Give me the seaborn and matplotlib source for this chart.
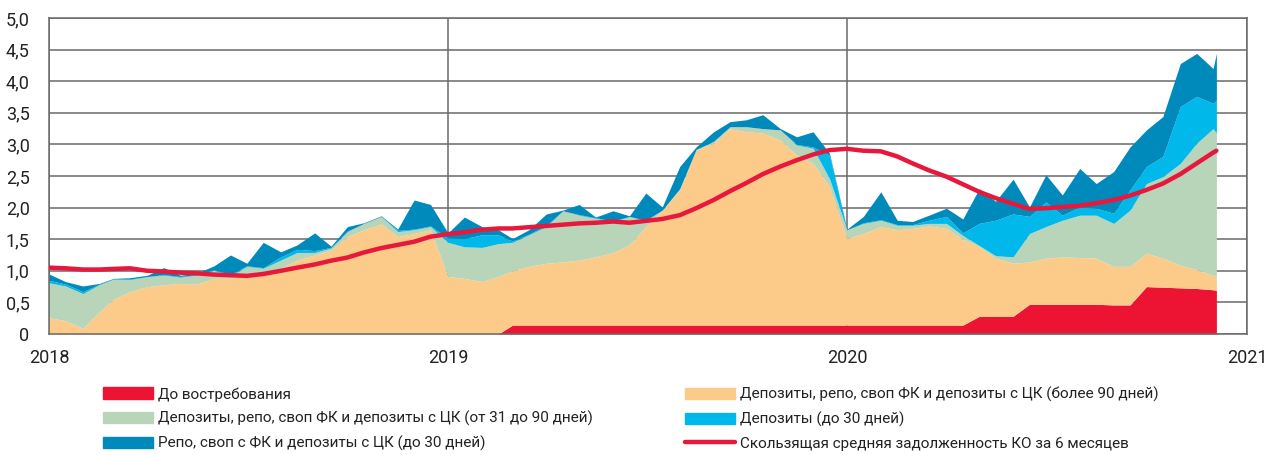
""" Задолженность КО: структура по срокам и скользящая средняя """

import pandas as pd
import seaborn as sns
import matplotlib.pyplot as plt
from matplotlib.ticker import FuncFormatter
from matplotlib.patches import Patch
from matplotlib.lines import Line2D

# Данные (трлн руб., шаг ~ полмесяца)

dates = pd.to_datetime([f"{y}-{m:02d}-{d:02d}" for y in (2018, 2019, 2020)
                        for m in range(1, 13) for d in (1, 16)][:71] + ["2020-12-04"])

demand = [0.00, 0.00, 0.00, 0.00, 0.00, 0.00, 0.00, 0.00, 0.00, 0.00, 0.00, 0.00,
          0.00, 0.00, 0.00, 0.00, 0.00, 0.00, 0.00, 0.00, 0.00, 0.00, 0.00, 0.00,
          0.00, 0.00, 0.00, 0.00, 0.14, 0.14, 0.14, 0.14, 0.14, 0.14, 0.14, 0.14,
          0.14, 0.14, 0.14, 0.14, 0.14, 0.14, 0.14, 0.14, 0.14, 0.14, 0.14, 0.14,
          0.14, 0.14, 0.14, 0.14, 0.14, 0.14, 0.14, 0.14, 0.28, 0.28, 0.28, 0.47,
          0.47, 0.47, 0.47, 0.47, 0.46, 0.46, 0.75, 0.74, 0.73, 0.72, 0.70, 0.69]
over90 = [0.26, 0.21, 0.09, 0.35, 0.55, 0.67, 0.75, 0.78, 0.80, 0.79, 0.88, 0.88,
          0.97, 0.97, 1.04, 1.17, 1.25, 1.33, 1.54, 1.65, 1.74, 1.54, 1.59, 1.65,
          0.91, 0.88, 0.83, 0.91, 0.86, 0.93, 0.98, 1.00, 1.03, 1.08, 1.15, 1.27,
          1.56, 1.82, 2.14, 2.77, 2.88, 3.11, 3.06, 3.04, 2.93, 2.69, 2.56, 2.19,
          1.37, 1.45, 1.56, 1.51, 1.53, 1.57, 1.53, 1.36, 1.10, 0.92, 0.84, 0.67,
          0.73, 0.75, 0.74, 0.73, 0.61, 0.61, 0.53, 0.46, 0.36, 0.30, 0.23, 0.22]
d31_90 = [0.55, 0.55, 0.55, 0.43, 0.32, 0.19, 0.16, 0.15, 0.10, 0.14, 0.13, 0.04,
          0.10, 0.07, 0.13, 0.12, 0.04, 0.03, 0.08, 0.10, 0.12, 0.08, 0.06, 0.05,
          0.54, 0.50, 0.54, 0.52, 0.45, 0.50, 0.58, 0.81, 0.71, 0.61, 0.49, 0.45,
          0.10, 0.00, 0.02, 0.01, 0.03, 0.03, 0.08, 0.07, 0.16, 0.16, 0.24, 0.13,
          0.14, 0.16, 0.10, 0.07, 0.05, 0.04, 0.08, 0.06, 0.02, 0.04, 0.10, 0.45,
          0.50, 0.58, 0.67, 0.68, 0.68, 0.89, 1.10, 1.29, 1.61, 2.00, 2.32, 2.27]
dep30 = [0.04, 0.03, 0.03, 0.01, 0.00, 0.01, 0.00, 0.01, 0.01, 0.01, 0.01, 0.02,
         0.01, 0.01, 0.05, 0.05, 0.03, 0.01, 0.01, 0.00, 0.00, 0.02, 0.01, 0.01,
         0.07, 0.13, 0.20, 0.14, 0.02, 0.01, 0.02, 0.00, 0.01, 0.01, 0.01, 0.00,
         0.00, 0.00, 0.00, 0.00, 0.00, 0.00, 0.00, 0.00, 0.00, 0.01, 0.02, 0.37,
         0.00, 0.01, 0.01, 0.01, 0.01, 0.05, 0.11, 0.04, 0.35, 0.56, 0.68, 0.27,
         0.39, 0.08, 0.13, 0.11, 0.16, 0.32, 0.27, 0.32, 0.90, 0.74, 0.40, 0.52]
repo30 = [0.10, 0.04, 0.09, 0.01, 0.01, 0.02, 0.02, 0.11, 0.02, 0.02, 0.06, 0.31,
          0.04, 0.40, 0.08, 0.07, 0.28, 0.02, 0.07, 0.01, 0.01, 0.02, 0.46, 0.34,
          0.08, 0.34, 0.13, 0.08, 0.04, 0.07, 0.18, 0.01, 0.16, 0.01, 0.16, 0.01,
          0.43, 0.05, 0.35, 0.04, 0.15, 0.08, 0.11, 0.22, 0.02, 0.12, 0.24, 0.03,
          0.01, 0.10, 0.44, 0.07, 0.05, 0.08, 0.13, 0.22, 0.55, 0.30, 0.55, 0.15,
          0.43, 0.32, 0.61, 0.39, 0.66, 0.68, 0.58, 0.63, 0.68, 0.68, 0.55, 0.74]
ma6 = [1.05, 1.04, 1.02, 1.02, 1.03, 1.04, 1.00, 0.99, 0.97, 0.96, 0.94, 0.93,
       0.92, 0.95, 1.00, 1.05, 1.10, 1.16, 1.21, 1.29, 1.36, 1.41, 1.46, 1.54,
       1.58, 1.61, 1.65, 1.67, 1.67, 1.69, 1.71, 1.73, 1.75, 1.76, 1.78, 1.76,
       1.79, 1.82, 1.88, 1.99, 2.12, 2.26, 2.39, 2.53, 2.65, 2.75, 2.84, 2.91,
       2.93, 2.90, 2.89, 2.81, 2.70, 2.59, 2.49, 2.37, 2.25, 2.15, 2.06, 1.98,
       1.99, 2.01, 2.03, 2.07, 2.12, 2.19, 2.28, 2.38, 2.53, 2.70, 2.87, 2.90]

labels = ["До востребования",
          "Депозиты, репо, своп ФК и депозиты с ЦК (более 90 дней)",
          "Депозиты, репо, своп ФК и депозиты с ЦК (от 31 до 90 дней)",
          "Депозиты (до 30 дней)",
          "Репо, своп с ФК и депозиты с ЦК (до 30 дней)",
          "Скользящая средняя задолженность КО за 6 месяцев"]
colors = ["#ED1433", "#FDCB89", "#B8D5BA", "#00B9EA", "#008ABB"]
line_color = "#E8173C"

df = pd.DataFrame({"Дата": dates, "MA": ma6})

# Оформление

sns.set_theme(style="white")
plt.rcParams["font.family"] = ["Roboto", "DejaVu Sans"]
grid_color = "#6A6A6A"

fig = plt.figure(figsize=(12.8, 4.55), dpi=100)
ax = fig.add_axes([49 / 1280, 1 - 334 / 455, 1198 / 1280, 316 / 455])

ax.stackplot(dates, demand, over90, d31_90, dep30, repo30, colors=colors,
             linewidth=0, zorder=2)
sns.lineplot(data=df, x="Дата", y="MA", color=line_color, linewidth=3.2,
             ax=ax, zorder=3)

ax.set_xlim(pd.Timestamp("2018-01-01"), pd.Timestamp("2021-01-01"))
ax.set_ylim(0, 5)
ax.set_yticks([0, 0.5, 1, 1.5, 2, 2.5, 3, 3.5, 4, 4.5, 5])
ax.yaxis.set_major_formatter(FuncFormatter(
    lambda v, p: "0" if v == 0 else f"{v:.1f}".replace(".", ",")))
years = pd.to_datetime(["2018-01-01", "2019-01-01", "2020-01-01", "2021-01-01"])
ax.set_xticks(years)
ax.set_xticklabels(["2018", "2019", "2020", "2021"])
ax.set_xlabel("")
ax.set_ylabel("")

ax.grid(True, color=grid_color, linewidth=1.1, zorder=0)
ax.set_axisbelow(True)
for s in ax.spines.values():
    s.set_color(grid_color)
    s.set_linewidth(1.1)
ax.tick_params(axis="x", length=6, width=1.1, color=grid_color, pad=5,
               labelsize=13, labelcolor="#222222")
ax.tick_params(axis="y", length=0, pad=14, labelsize=13, labelcolor="#222222")

# Легенда в две колонки

handles = [Patch(color=c) for c in colors] + [Line2D([], [], color=line_color, lw=3.2)]
leg_kw = dict(frameon=False, fontsize=11, handlelength=3.3, handleheight=0.8,
              handletextpad=0.3, labelspacing=0.62, loc="upper left",
              borderaxespad=0, borderpad=0)
leg1 = fig.legend([handles[0], handles[2], handles[4]],
                  [labels[0], labels[2], labels[4]],
                  bbox_to_anchor=(103 / 1280, 1 - 387 / 455), **leg_kw)
leg2 = fig.legend([handles[1], handles[3], handles[5]],
                  [labels[1], labels[3], labels[5]],
                  bbox_to_anchor=(685 / 1280, 1 - 387 / 455), **leg_kw)
for leg in (leg1, leg2):
    for t in leg.get_texts():
        t.set_color("#222222")

plt.savefig("out.png", dpi=100)
